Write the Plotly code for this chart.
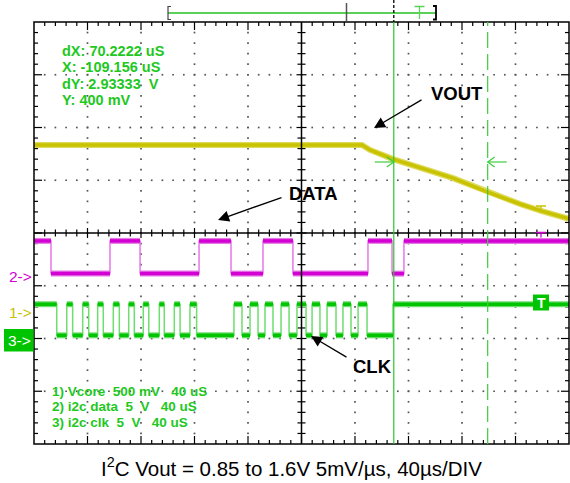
import plotly.graph_objects as go

# ---------------- data (time in µs across 10 div of 40 µs; amplitude in screen divisions) ----------------
vout_t = [-200.0, 45.2, 51.2, 68.4, 113.3, 138.7, 163.4, 179.1, 200.0]
vout_v = [1.67, 1.67, 1.575, 1.40, 1.04, 0.78, 0.55, 0.42, 0.27]

data_edges = [-187.3, -143.2, -120.7, -76.6, -52.7, -28.8, -6.4, 49.7, 67.7, 76.6]
data_high, data_low = -0.15, -0.77

clk_edges = [-183.0, -175.5, -171.1, -163.6, -159.1, -152.4, -148.2, -140.7, -136.2,
             -129.2, -125.0, -118.3, -114.2, -106.3, -102.6, -95.1, -90.8, -83.4, -78.4,
             -50.5, -44.5, -38.5, -32.5, -27.3, -21.3, -15.3, -9.3, -3.4, 3.4, 7.9, 13.8,
             19.1, 25.8, 31.0, 37.0, 42.3, 49.0, 68.4]
clk_high, clk_low = -1.35, -1.94

cursor_a, cursor_b = 69.0, 139.2

readout = ["dX: 70.2222 uS", "X: -109.156 uS", "dY: 2.93333  V", "Y: 400 mV"]
legend_lines = ["1) Vcore  500 mV   40 uS", "2) i2c data  5  V   40 uS", "3) i2c clk  5  V   40 uS"]
caption = "I<sup>2</sup>C Vout = 0.85 to 1.6V 5mV/µs, 40µs/DIV"

# ---------------- geometry ----------------
T0, T1 = -200.0, 200.0
V0, V1 = -4.0, 4.0
W, H = 570, 483
ML, MR, MT, MB = 34, 1, 22, 39
PW = W - ML - MR
PH = H - MT - MB
XU = (T1 - T0) / PW
YU = (V1 - V0) / PH

YEL = "rgb(200,194,0)"
MAG = "rgb(210,0,210)"
GRN = "rgb(0,196,0)"
GRN_L = "rgb(110,222,110)"
MAG_L = "rgb(230,120,230)"
FONT = "Liberation Sans, Arial, sans-serif"


def PX(x):
    return (x - ML) / PW


def PY(y):
    return (H - MB - y) / PH


def step(edges, hi, lo):
    xs, ys, cur = [T0], [hi], True
    for e in edges:
        a = hi if cur else lo
        cur = not cur
        b = hi if cur else lo
        xs += [e, e]
        ys += [a, b]
    xs.append(T1)
    ys.append(hi if cur else lo)
    return xs, ys


def flats(edges, hi, lo):
    pts = [T0] + edges + [T1]
    xs, ys, cur = [], [], True
    for a, b in zip(pts[:-1], pts[1:]):
        lv = hi if cur else lo
        xs += [a, b, None]
        ys += [lv, lv, None]
        cur = not cur
    return xs, ys


fig = go.Figure()

# dotted graticule
gx, gy = [], []
for k in range(1, 10):
    t = T0 + 40 * k
    if t == 0:
        continue
    for j in range(1, 40):
        gx.append(t)
        gy.append(V0 + 0.2 * j)
for k in range(1, 8):
    v = V0 + k
    if v == 0:
        continue
    for i in range(1, 50):
        gx.append(T0 + 8 * i)
        gy.append(v)
fig.add_trace(go.Scatter(x=gx, y=gy, mode="markers", hoverinfo="skip",
                         marker=dict(symbol="square", size=1.7, color="#555", line=dict(width=0))))

# tick marks on frame and center axes
tx, ty = [], []
for i in range(1, 50):
    t = T0 + 8 * i
    ln = (8 if i % 5 == 0 else 4)
    tx += [t, t, None, t, t, None]
    ty += [V1, V1 - ln * YU, None, V0, V0 + ln * YU, None]
    hl = (5 if i % 5 == 0 else 3.5) * YU
    tx += [t, t, None]
    ty += [-hl, hl, None]
for j in range(1, 40):
    v = V0 + 0.2 * j
    ln = (8 if j % 5 == 0 else 4)
    tx += [T0, T0 + ln * XU, None, T1, T1 - ln * XU, None]
    ty += [v, v, None, v, v, None]
    hl = (5 if j % 5 == 0 else 4) * XU
    tx += [-hl, hl, None]
    ty += [v, v, None]
fig.add_trace(go.Scatter(x=tx, y=ty, mode="lines", hoverinfo="skip",
                         line=dict(color="black", width=1.2)))

# VOUT (yellow)
fig.add_trace(go.Scatter(x=vout_t, y=vout_v, mode="lines", hoverinfo="skip",
                         line=dict(color="rgb(222,218,90)", width=6)))
fig.add_trace(go.Scatter(x=vout_t, y=vout_v, mode="lines", hoverinfo="skip",
                         line=dict(color=YEL, width=3.5)))

# DATA (magenta)
sx, sy = step(data_edges, data_high, data_low)
fx, fy = flats(data_edges, data_high, data_low)
fig.add_trace(go.Scatter(x=sx, y=sy, mode="lines", hoverinfo="skip", line=dict(color=MAG_L, width=1.5)))
fig.add_trace(go.Scatter(x=fx, y=fy, mode="lines", hoverinfo="skip", line=dict(color=MAG_L, width=6)))
fig.add_trace(go.Scatter(x=fx, y=fy, mode="lines", hoverinfo="skip", line=dict(color=MAG, width=3.5)))

# CLK (green)
sx, sy = step(clk_edges, clk_high, clk_low)
fx, fy = flats(clk_edges, clk_high, clk_low)
fig.add_trace(go.Scatter(x=sx, y=sy, mode="lines", hoverinfo="skip", line=dict(color=GRN_L, width=1.5)))
fig.add_trace(go.Scatter(x=fx, y=fy, mode="lines", hoverinfo="skip", line=dict(color=GRN_L, width=6)))
fig.add_trace(go.Scatter(x=fx, y=fy, mode="lines", hoverinfo="skip", line=dict(color=GRN, width=3.5)))

shapes = []
# frame and center axes
shapes.append(dict(type="rect", xref="paper", yref="paper", x0=0, x1=1, y0=0, y1=1,
                   line=dict(color="black", width=1.5)))
shapes.append(dict(type="line", xref="x", yref="y", x0=0, x1=0, y0=V0, y1=V1,
                   line=dict(color="black", width=1.5)))
shapes.append(dict(type="line", xref="x", yref="y", x0=T0, x1=T1, y0=0, y1=0,
                   line=dict(color="black", width=1.5)))
# cursors
shapes.append(dict(type="line", xref="x", yref="y", x0=cursor_a, x1=cursor_a, y0=V0, y1=V1,
                   line=dict(color="rgb(40,200,40)", width=1.2)))
shapes.append(dict(type="line", xref="x", yref="y", x0=cursor_b, x1=cursor_b, y0=V0, y1=V1,
                   line=dict(color="rgb(60,205,60)", width=1.2, dash="16px,6px")))


def ppath(points):
    return "M " + " L ".join(f"{PX(x):.5f},{PY(y):.5f}" for x, y in points)


# cursor arrows
ca_px = ML + (cursor_a - T0) / XU
cb_px = ML + (cursor_b - T0) / XU
for path in ([(ca_px - 19, 162), (ca_px, 162)], [(ca_px - 7, 157), (ca_px, 162), (ca_px - 7, 167)],
             [(cb_px + 19, 162), (cb_px, 162)], [(cb_px + 7, 157), (cb_px, 162), (cb_px + 7, 167)]):
    shapes.append(dict(type="path", xref="paper", yref="paper", path=ppath(path),
                       line=dict(color="rgb(60,205,60)", width=1.2)))

# record bar at top
bar_y = 13
shapes.append(dict(type="path", xref="paper", yref="paper", path=ppath([(168, bar_y), (436, bar_y)]),
                   line=dict(color="rgb(90,210,90)", width=2)))
shapes.append(dict(type="path", xref="paper", yref="paper",
                   path=ppath([(171, 6.5), (168, 6.5), (168, 19.5), (171, 19.5)]),
                   line=dict(color="#444", width=1.2)))
shapes.append(dict(type="path", xref="paper", yref="paper",
                   path=ppath([(433, 6), (436, 6), (436, 19.5), (433, 19.5)]),
                   line=dict(color="black", width=1.8)))
shapes.append(dict(type="path", xref="paper", yref="paper", path=ppath([(346.5, 3), (346.5, 21)]),
                   line=dict(color="#555", width=1.5)))
shapes.append(dict(type="path", xref="paper", yref="paper", path=ppath([(ca_px, 0), (ca_px, 22)]),
                   line=dict(color="black", width=1.3, dash="3px,2px")))
shapes.append(dict(type="path", xref="paper", yref="paper",
                   path=ppath([(414.5, 6.5), (424.5, 6.5)]) + " " + ppath([(419.5, 6.5), (419.5, 19)]),
                   line=dict(color="rgb(90,210,90)", width=1.3)))

# small T markers on traces
for col, yy in ((YEL, 206), (MAG, 232.5)):
    shapes.append(dict(type="path", xref="paper", yref="paper",
                       path=ppath([(536, yy), (546, yy)]) + " " + ppath([(541, yy), (541, yy + 5)]),
                       line=dict(color=col, width=1.3)))

# green trigger box and channel 3 box
shapes.append(dict(type="rect", xref="paper", yref="paper", x0=PX(533), x1=PX(549), y0=PY(310.5), y1=PY(294.5),
                   fillcolor=GRN, line=dict(width=0)))
shapes.append(dict(type="rect", xref="paper", yref="paper", x0=PX(4), x1=PX(33.5), y0=PY(351.5), y1=PY(329),
                   fillcolor=GRN, line=dict(width=0)))

annotations = []


def txt(x, y, text, size, color, bold=False, xanchor="left"):
    annotations.append(dict(x=PX(x), y=PY(y), xref="paper", yref="paper", text=(f"<b>{text}</b>" if bold else text),
                            showarrow=False, xanchor=xanchor, yanchor="middle",
                            font=dict(family=FONT, size=size, color=color)))


for i, s in enumerate(readout):
    txt(60, 51 + 16.4 * i, s, 14.5, "rgb(30,200,30)", bold=True)
for i, s in enumerate(legend_lines):
    txt(50, 391 + 15.8 * i, s, 13.5, "rgb(30,200,30)", bold=True)

txt(429, 93, "VOUT", 18.5, "black", bold=True)
txt(287, 193, "DATA", 18.5, "black", bold=True)
txt(351, 366, "CLK", 18.5, "black", bold=True)

txt(7, 276, "2->", 15.5, MAG)
txt(7, 312, "1->", 15.5, YEL)
txt(6, 340.5, "3->", 15.5, "white")
txt(541, 302.5, "T", 14, "white", bold=True, xanchor="center")

txt(291, 467, caption, 20.5, "black", xanchor="center")

# black arrows
for (tx_, ty_), (hx, hy) in (((423, 99), (374, 128)), ((283, 197), (218, 220)), ((348, 358), (311, 336))):
    annotations.append(dict(x=PX(hx), y=PY(hy), xref="paper", yref="paper", text="",
                            ax=tx_ - hx, ay=ty_ - hy, axref="pixel", ayref="pixel",
                            showarrow=True, arrowhead=2, arrowsize=1.7, arrowwidth=1.3, arrowcolor="black"))

fig.update_layout(
    width=W, height=H,
    margin=dict(l=ML, r=MR, t=MT, b=MB, pad=0),
    paper_bgcolor="white", plot_bgcolor="white",
    showlegend=False,
    xaxis=dict(range=[T0, T1], visible=False, fixedrange=True),
    yaxis=dict(range=[V0, V1], visible=False, fixedrange=True),
    shapes=shapes, annotations=annotations,
)

fig.write_html("out.html", config={"displayModeBar": False},
               post_script="document.body.style.margin='0';document.body.style.overflow='hidden';")
